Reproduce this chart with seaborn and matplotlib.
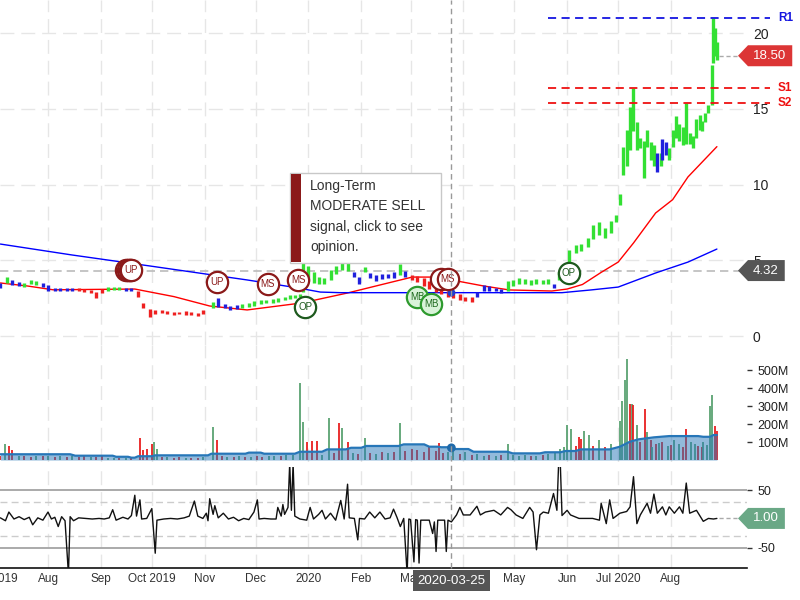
import numpy as np
import pandas as pd
import matplotlib
matplotlib.use("Agg")
import matplotlib.pyplot as plt
import matplotlib.dates as mdates
from matplotlib.patches import Polygon, Rectangle
from matplotlib.lines import Line2D
from matplotlib.transforms import IdentityTransform, blended_transform_factory
from matplotlib.ticker import FuncFormatter, FixedLocator
import seaborn as sns

sns.set_theme(style="white")
plt.rcParams["font.family"] = ["Liberation Sans", "DejaVu Sans"]

# ---------------- price bars (low / high / trend colour) ----------------
bar_dates = [
    "2019-07-04", "2019-07-08", "2019-07-11", "2019-07-15", "2019-07-18", "2019-07-22", "2019-07-25", "2019-07-29",
    "2019-08-01", "2019-08-05", "2019-08-08", "2019-08-12", "2019-08-15", "2019-08-19", "2019-08-22", "2019-08-26",
    "2019-08-29", "2019-09-02", "2019-09-05", "2019-09-09", "2019-09-12", "2019-09-16", "2019-09-19", "2019-09-23",
    "2019-09-26", "2019-09-30", "2019-10-03", "2019-10-07", "2019-10-10", "2019-10-14", "2019-10-17", "2019-10-21",
    "2019-10-24", "2019-10-28", "2019-10-31", "2019-11-06", "2019-11-09", "2019-11-13", "2019-11-16", "2019-11-20",
    "2019-11-23", "2019-11-27", "2019-11-30", "2019-12-04", "2019-12-07", "2019-12-11", "2019-12-14", "2019-12-18",
    "2019-12-21", "2019-12-24", "2019-12-27", "2019-12-29", "2020-01-01", "2020-01-04", "2020-01-07", "2020-01-10",
    "2020-01-14", "2020-01-17", "2020-01-21", "2020-01-24", "2020-01-28", "2020-01-31", "2020-02-03", "2020-02-06",
    "2020-02-10", "2020-02-13", "2020-02-17", "2020-02-20", "2020-02-24", "2020-02-27", "2020-03-02", "2020-03-05",
    "2020-03-09", "2020-03-12", "2020-03-16", "2020-03-19", "2020-03-23", "2020-03-26", "2020-03-30", "2020-04-02",
    "2020-04-06", "2020-04-09", "2020-04-13", "2020-04-16", "2020-04-20", "2020-04-23", "2020-04-27", "2020-04-30",
    "2020-05-04", "2020-05-07", "2020-05-11", "2020-05-14", "2020-05-18", "2020-05-21", "2020-05-24", "2020-05-27",
    "2020-05-30", "2020-06-02", "2020-06-06", "2020-06-09", "2020-06-13", "2020-06-16", "2020-06-20", "2020-06-23",
    "2020-06-27", "2020-06-30", "2020-07-02", "2020-07-04", "2020-07-06", "2020-07-08", "2020-07-10", "2020-07-12",
    "2020-07-14", "2020-07-16", "2020-07-18", "2020-07-20", "2020-07-22", "2020-07-24", "2020-07-26", "2020-07-27",
    "2020-07-29", "2020-07-31", "2020-08-02", "2020-08-04", "2020-08-06", "2020-08-08", "2020-08-10", "2020-08-12",
    "2020-08-14", "2020-08-16", "2020-08-18", "2020-08-19", "2020-08-21", "2020-08-23", "2020-08-25", "2020-08-26",
    "2020-08-27", "2020-08-28",
]
bar_low = [
    3.20, 3.50, 3.35, 3.30, 3.25, 3.40, 3.35, 3.25,
    3.00, 3.00, 2.95, 3.00, 2.95, 2.95, 2.90, 2.85,
    2.50, 2.85, 3.00, 3.05, 3.05, 2.95, 2.95, 2.60,
    1.85, 1.25, 1.45, 1.50, 1.45, 1.40, 1.45, 1.40,
    1.40, 1.35, 1.45, 1.85, 1.90, 1.85, 1.70, 1.75,
    1.85, 1.90, 2.00, 2.10, 2.15, 2.20, 2.25, 2.35,
    2.45, 2.50, 2.55, 2.90, 3.60, 3.50, 3.40, 3.45,
    3.70, 4.10, 4.35, 4.30, 3.90, 3.40, 4.20, 3.80,
    3.65, 3.75, 3.80, 3.85, 4.00, 3.90, 3.70, 3.55,
    3.30, 3.10, 2.90, 2.75, 2.60, 2.50, 2.40, 2.30,
    2.25, 2.60, 2.95, 3.00, 2.95, 2.85, 3.00, 3.30,
    3.40, 3.45, 3.35, 3.40, 3.45, 3.40, 3.15, 3.70,
    3.80, 4.90, 5.50, 5.60, 5.90, 6.40, 6.70, 6.50,
    6.80, 7.50, 8.65, 10.6, 11.2, 12.3, 13.5, 12.3,
    12.4, 10.4, 12.5, 11.6, 11.2, 10.8, 11.2, 11.6,
    11.95, 11.6, 12.5, 13.1, 12.9, 12.6, 12.7, 12.7,
    12.4, 13.1, 13.6, 13.5, 14.1, 14.7, 15.25, 18.0,
    18.5, 18.2,
]
bar_high = [
    3.50, 3.90, 3.70, 3.55, 3.50, 3.70, 3.60, 3.50,
    3.35, 3.20, 3.20, 3.20, 3.15, 3.15, 3.10, 3.05,
    2.90, 3.10, 3.25, 3.25, 3.25, 3.20, 3.20, 3.00,
    2.20, 1.75, 1.70, 1.70, 1.65, 1.60, 1.60, 1.65,
    1.60, 1.55, 1.70, 2.25, 2.50, 2.10, 2.00, 2.05,
    2.10, 2.15, 2.30, 2.40, 2.40, 2.45, 2.50, 2.60,
    2.70, 2.70, 2.75, 4.80, 4.60, 4.20, 3.90, 3.85,
    4.35, 4.60, 4.90, 4.80, 4.20, 3.90, 4.55, 4.15,
    4.00, 4.10, 4.10, 4.20, 4.75, 4.30, 4.00, 3.95,
    3.80, 3.60, 3.40, 3.20, 3.00, 2.95, 2.80, 2.60,
    2.55, 2.90, 3.35, 3.30, 3.15, 3.10, 3.60, 3.70,
    3.80, 3.75, 3.70, 3.75, 3.70, 3.75, 3.40, 4.20,
    4.20, 5.70, 6.00, 6.10, 6.50, 7.30, 7.50, 7.10,
    7.60, 8.00, 9.40, 12.5, 13.6, 15.1, 16.4, 14.1,
    13.1, 12.9, 13.6, 12.8, 12.6, 12.1, 12.1, 13.0,
    12.8, 12.4, 13.6, 14.5, 14.0, 13.8, 15.4, 13.4,
    13.2, 14.3, 14.6, 14.2, 14.7, 15.25, 17.9, 21.0,
    20.3, 19.4,
]
bar_trend = list(
    "bgbbgggb" "bbbbbrrr" "rrgggbbr" "rrrrrrrr" "rrrgbbbb" "gggggggg" "gggggggg"
    "ggggbbgb" "bbbbgbrr" "rrrrrrrr" "rbbbbbgg" "ggggggbg" "gggggggg" "gggggggg"
    "gggggbgb" "bggggggg" "gggggggg" "gg"
)

# ---------------- moving averages ----------------
ma50_dates = ["2019-07-04", "2019-07-20", "2019-08-04", "2019-09-21", "2019-10-14", "2019-11-04", "2019-11-26",
              "2019-12-28", "2020-01-24", "2020-02-19", "2020-03-02", "2020-03-17", "2020-03-25", "2020-04-13",
              "2020-04-28", "2020-05-23", "2020-06-01", "2020-06-10", "2020-06-21", "2020-07-01", "2020-07-10",
              "2020-07-23", "2020-08-02", "2020-08-11", "2020-08-28"]
ma50_values = [3.50, 3.30, 3.05, 3.10, 2.60, 1.98, 1.72, 2.18, 2.84, 3.56, 3.89, 3.89, 3.70, 3.30, 3.04, 2.97,
               3.10, 3.40, 4.20, 4.88, 6.14, 8.12, 9.00, 10.50, 12.50]
ma200_dates = ["2019-07-04", "2019-08-15", "2019-09-30", "2019-11-26", "2019-12-26", "2020-01-08", "2020-01-20",
               "2020-05-29", "2020-06-15", "2020-07-01", "2020-07-23", "2020-08-11", "2020-08-28"]
ma200_values = [6.07, 5.35, 4.62, 3.70, 3.17, 2.90, 2.86, 2.86, 3.04, 3.23, 4.16, 4.88, 5.74]

# ---------------- signals ----------------
sig_dates = ["2019-09-16", "2019-09-17", "2019-09-18", "2019-09-19", "2019-11-08", "2019-12-08", "2019-12-26",
             "2019-12-30", "2020-03-05", "2020-03-13", "2020-03-19", "2020-03-23", "2020-06-02"]
sig_prices = [4.36, 4.36, 4.36, 4.36, 3.56, 3.43, 3.70, 1.91, 2.57, 2.11, 3.76, 3.76, 4.16]
sig_labels = ["UP", "UP", "UP", "UP", "UP", "MS", "MS", "OP", "MB", "MB", "MS", "MS", "OP"]

# support / resistance
level_names = ["R1", "S1", "S2"]
level_values = [21.0, 16.4, 15.4]
last_close = 18.50
cross_date = "2020-03-25"
cross_price = 4.32
tooltip_lines = ["Long-Term", "MODERATE SELL", "signal, click to see", "opinion."]

# ---------------- volume (millions) ----------------
vol_dates = [
    "2019-07-04", "2019-07-07", "2019-07-09", "2019-07-11", "2019-07-15", "2019-07-18", "2019-07-22", "2019-07-25",
    "2019-07-29", "2019-08-01", "2019-08-05", "2019-08-08", "2019-08-12", "2019-08-15", "2019-08-19", "2019-08-22",
    "2019-08-26", "2019-08-29", "2019-09-02", "2019-09-05", "2019-09-09", "2019-09-12", "2019-09-16", "2019-09-19",
    "2019-09-24", "2019-09-26", "2019-09-28", "2019-10-01", "2019-10-02", "2019-10-04", "2019-10-07", "2019-10-10",
    "2019-10-14", "2019-10-17", "2019-10-21", "2019-10-24", "2019-10-28", "2019-10-31", "2019-11-06", "2019-11-08",
    "2019-11-11", "2019-11-14", "2019-11-18", "2019-11-21", "2019-11-25", "2019-11-28", "2019-12-02", "2019-12-05",
    "2019-12-09", "2019-12-12", "2019-12-16", "2019-12-19", "2019-12-23", "2019-12-27", "2019-12-29", "2019-12-31",
    "2020-01-03", "2020-01-06", "2020-01-09", "2020-01-13", "2020-01-16", "2020-01-19", "2020-01-21", "2020-01-24",
    "2020-01-27", "2020-01-30", "2020-02-03", "2020-02-06", "2020-02-10", "2020-02-13", "2020-02-17", "2020-02-20",
    "2020-02-24", "2020-02-27", "2020-03-02", "2020-03-05", "2020-03-09", "2020-03-12", "2020-03-16", "2020-03-18",
    "2020-03-20", "2020-03-23", "2020-03-26", "2020-03-30", "2020-04-02", "2020-04-06", "2020-04-09", "2020-04-13",
    "2020-04-16", "2020-04-20", "2020-04-23", "2020-04-27", "2020-04-30", "2020-05-04", "2020-05-07", "2020-05-11",
    "2020-05-14", "2020-05-18", "2020-05-21", "2020-05-25", "2020-05-28", "2020-05-30", "2020-06-01", "2020-06-03",
    "2020-06-06", "2020-06-08", "2020-06-09", "2020-06-11", "2020-06-14", "2020-06-16", "2020-06-20", "2020-06-23",
    "2020-06-27", "2020-07-02", "2020-07-03", "2020-07-05", "2020-07-06", "2020-07-08", "2020-07-09", "2020-07-10",
    "2020-07-12", "2020-07-14", "2020-07-17", "2020-07-18", "2020-07-20", "2020-07-21", "2020-07-23", "2020-07-25",
    "2020-07-27", "2020-07-30", "2020-08-01", "2020-08-03", "2020-08-06", "2020-08-08", "2020-08-10", "2020-08-13",
    "2020-08-15", "2020-08-17", "2020-08-19", "2020-08-20", "2020-08-22", "2020-08-24", "2020-08-25", "2020-08-27",
    "2020-08-28",
]
vol_values = [
    22, 89, 80, 54, 20, 25, 18, 22,
    20, 25, 18, 20, 15, 22, 18, 20,
    15, 18, 22, 12, 14, 10, 12, 10,
    120, 55, 62, 87, 98, 60, 15, 18,
    12, 15, 12, 14, 12, 15, 182, 111,
    20, 18, 15, 20, 18, 15, 22, 18,
    20, 25, 22, 28, 30, 426, 209, 98,
    106, 106, 30, 232, 40, 204, 176, 98,
    40, 35, 121, 40, 35, 45, 38, 42,
    204, 50, 60, 55, 45, 70, 50, 92,
    40, 45, 50, 35, 45, 30, 35, 25,
    30, 20, 28, 88, 30, 25, 30, 20,
    25, 30, 35, 45, 60, 70, 194, 172,
    80, 130, 115, 159, 140, 80, 111, 70,
    90, 216, 330, 445, 559, 310, 310, 305,
    194, 100, 284, 156, 110, 70, 90, 95,
    100, 80, 85, 110, 90, 75, 175, 100,
    90, 80, 70, 100, 85, 302, 359, 191,
    159,
]
vol_trend = list(
    "rgrrgrrg" "rgrgrgrr" "grrggrgr" "rrrrggrg" "rrgrrggr" "rgrgrgrr" "ggrggggr"
    "rrggrrgr" "grgrgrgr" "grrrrrrr" "rggrgrgg" "rgrggggr" "grgggggg" "rrrggrgr"
    "gggggrgr" "grrgrgrg" "rgrggrrg" "grrggggr" "r"
)
vavg_dates = ["2019-07-04", "2019-08-14", "2019-08-17", "2019-09-08", "2019-09-10", "2019-09-17", "2019-09-19",
              "2019-09-21", "2019-09-23", "2019-10-01", "2019-10-03", "2019-11-03", "2019-11-05", "2019-11-25",
              "2019-11-27", "2019-12-04", "2019-12-06", "2019-12-24", "2019-12-27", "2020-01-09", "2020-01-12",
              "2020-01-23", "2020-01-26", "2020-02-01", "2020-02-04", "2020-02-23", "2020-02-26", "2020-03-09",
              "2020-03-12", "2020-03-17", "2020-03-19", "2020-03-24", "2020-03-27", "2020-04-04", "2020-04-07",
              "2020-04-27", "2020-04-30", "2020-05-16", "2020-05-19", "2020-05-28", "2020-05-31", "2020-06-06",
              "2020-06-09", "2020-06-26", "2020-07-02", "2020-07-08", "2020-07-13", "2020-07-22", "2020-07-31",
              "2020-08-17", "2020-08-20", "2020-08-24", "2020-08-26", "2020-08-28"]
vavg_values = [32, 32, 24, 24, 18, 18, 13, 13, 21, 21, 26, 26, 35, 35, 41, 41, 35, 35, 46, 46, 59, 59, 68, 68,
               78, 78, 87, 87, 74, 74, 71, 71, 61, 61, 46, 46, 37, 37, 43, 43, 50, 50, 59, 59, 74, 102, 115,
               126, 133, 133, 129, 129, 139, 139]

# ---------------- oscillator ----------------
osc_dates = [
    "2019-07-04", "2019-07-07", "2019-07-09", "2019-07-12", "2019-07-15", "2019-07-18", "2019-07-21", "2019-07-23",
    "2019-07-26", "2019-07-29", "2019-08-01", "2019-08-03", "2019-08-05", "2019-08-07", "2019-08-09", "2019-08-11",
    "2019-08-13", "2019-08-14", "2019-08-16", "2019-08-19", "2019-08-23", "2019-08-27", "2019-08-31", "2019-09-03",
    "2019-09-06", "2019-09-08", "2019-09-10", "2019-09-14", "2019-09-17", "2019-09-19", "2019-09-21", "2019-09-22",
    "2019-09-24", "2019-09-25", "2019-09-28", "2019-10-01", "2019-10-03", "2019-10-04", "2019-10-08", "2019-10-12",
    "2019-10-16", "2019-10-20", "2019-10-23", "2019-10-26", "2019-10-28", "2019-10-31", "2019-11-02", "2019-11-03",
    "2019-11-04", "2019-11-06", "2019-11-07", "2019-11-09", "2019-11-12", "2019-11-15", "2019-11-18", "2019-11-21",
    "2019-11-24", "2019-11-27", "2019-11-30", "2019-12-02", "2019-12-03", "2019-12-06", "2019-12-10", "2019-12-13",
    "2019-12-14", "2019-12-16", "2019-12-17", "2019-12-18", "2019-12-20", "2019-12-21", "2019-12-22", "2019-12-23",
    "2019-12-24", "2019-12-27", "2019-12-31", "2020-01-02", "2020-01-04", "2020-01-07", "2020-01-09", "2020-01-11",
    "2020-01-14", "2020-01-17", "2020-01-20", "2020-01-22", "2020-01-24", "2020-01-25", "2020-01-28", "2020-01-30",
    "2020-01-31", "2020-02-03", "2020-02-06", "2020-02-09", "2020-02-12", "2020-02-15", "2020-02-18", "2020-02-20",
    "2020-02-22", "2020-02-24", "2020-02-26", "2020-02-28", "2020-02-29", "2020-03-01", "2020-03-03", "2020-03-04",
    "2020-03-05", "2020-03-06", "2020-03-07", "2020-03-12", "2020-03-14", "2020-03-15", "2020-03-16", "2020-03-17",
    "2020-03-21", "2020-03-22", "2020-03-23", "2020-03-25", "2020-03-28", "2020-03-30", "2020-04-01", "2020-04-05",
    "2020-04-09", "2020-04-11", "2020-04-14", "2020-04-19", "2020-04-23", "2020-04-27", "2020-04-29", "2020-05-02",
    "2020-05-06", "2020-05-10", "2020-05-12", "2020-05-14", "2020-05-16", "2020-05-18", "2020-05-21", "2020-05-24",
    "2020-05-26", "2020-05-27", "2020-05-28", "2020-05-29", "2020-06-01", "2020-06-03", "2020-06-08", "2020-06-12",
    "2020-06-16", "2020-06-20", "2020-06-21", "2020-06-24", "2020-06-26", "2020-06-28", "2020-07-02", "2020-07-06",
    "2020-07-08", "2020-07-10", "2020-07-12", "2020-07-14", "2020-07-18", "2020-07-20", "2020-07-22", "2020-07-24",
    "2020-07-27", "2020-07-29", "2020-07-31", "2020-08-03", "2020-08-06", "2020-08-08", "2020-08-10", "2020-08-12",
    "2020-08-16", "2020-08-20", "2020-08-23", "2020-08-26", "2020-08-28",
]
osc_values = [
    2, -3, 12, 0, 4, -1, 3, -10,
    2, -2, 12, 0, 3, -13, 4, -3,
    -95, 4, -3, 2, 1, 0, 1, 0,
    2, 16, -2, 3, 0, 6, 41, 5,
    33, 0, 1, 18, -59, -2, 0, 1,
    0, 2, 5, 31, 5, 1, 10, -3,
    35, 8, 23, 2, 10, 0, 3, -3,
    1, -1, 12, 33, 0, 1, 0, 0,
    20, 5, 25, 8, 20, 95, 15, 95,
    5, 0, -2, 20, 0, 8, 15, 0,
    10, -2, 32, 0, 60, 2, 1, -36,
    1, 0, 12, 2, 12, 0, 2, 17,
    3, -13, 1, -95, 0, -1, -74, -1,
    -2, -76, -2, -2, -25, -5, -56, -2,
    -2, -56, -2, -5, 7, 20, 7, 7,
    22, 7, 12, 15, 7, 20, 16, 7,
    1, 20, 12, -53, 7, 12, 10, 44,
    15, 95, 95, 6, 15, 7, 1, 1,
    1, -2, 27, -8, 33, 1, 10, 13,
    21, 73, -8, 7, 27, 10, 43, 10,
    21, 7, 21, 10, 21, 10, 62, 10,
    15, -4, 1, 0, 1,
]

# ---------------- figure / axes layout ----------------
W, H = 800, 600
fig = plt.figure(figsize=(8, 6), dpi=100, facecolor="white")


def px_box(top, bottom, right=747):
    return [0, (H - bottom) / H, right / W, (bottom - top) / H]


ax_p = fig.add_axes(px_box(0, 345))
ax_v = fig.add_axes(px_box(345, 462), sharex=ax_p)
ax_o = fig.add_axes(px_box(467, 568), sharex=ax_p)

GREEN, BLUE, RED = "#33e033", "#2020dd", "#ee2020"
trend_col = {"g": GREEN, "b": BLUE, "r": RED}

# price bars
pd_dates = pd.to_datetime(bar_dates)
ax_p.vlines(pd_dates, bar_low, bar_high, colors=[trend_col[t] for t in bar_trend], lw=2.4, zorder=4)

# moving averages
sns.lineplot(x=pd.to_datetime(ma50_dates), y=ma50_values, color="#ff0000", lw=1.0, ax=ax_p,
             zorder=3, estimator=None, sort=False, legend=False)
sns.lineplot(x=pd.to_datetime(ma200_dates), y=ma200_values, color="#0000ff", lw=1.0, ax=ax_p,
             zorder=3, estimator=None, sort=False, legend=False)

# crosshair horizontal
ax_p.axhline(cross_price, color="#bbbbbb", ls=(0, (5, 3)), lw=1.2, zorder=2)

# signal markers (a label is only written where it is not hidden by the next circle)
sig_style = {
    "UP": ("white", "#8b1a1a", "#8b1a1a"),
    "MS": ("white", "#8b1a1a", "#8b1a1a"),
    "OP": ("white", "#1e5a1e", "#1e5a1e"),
    "MB": ("#d9f3d9", "#2e9a2e", "#1e6a1e"),
}
sig_num = mdates.date2num(pd.to_datetime(sig_dates))
for i, (dn, p, lab) in enumerate(zip(sig_num, sig_prices, sig_labels)):
    fc, ec, tc = sig_style[lab]
    sns.scatterplot(x=[mdates.num2date(dn)], y=[p], s=235, color=fc, edgecolor=ec, linewidth=1.6, ax=ax_p,
                    zorder=10 + 2 * i, legend=False)
    hidden = (i + 1 < len(sig_num) and sig_labels[i + 1] == lab and sig_num[i + 1] - dn <= 4
              and abs(sig_prices[i + 1] - p) < 0.1)
    if not hidden:
        ax_p.text(dn, p, lab, ha="center", va="center", fontsize=7, color=tc, zorder=11 + 2 * i)

# support / resistance
level_cols = ["#1515e0", "#ee1111", "#ee1111"]
for name, val, col in zip(level_names, level_values, level_cols):
    ax_p.axhline(val, xmin=548 / 747, xmax=770 / 747, color=col, ls=(0, (4.5, 3)), lw=1.3,
                 clip_on=False, zorder=6)
    ax_p.text(778 / 747, val, name, transform=ax_p.get_yaxis_transform(), color=col, fontsize=8.5,
              fontweight="bold", va="center", ha="left", clip_on=False)

# crosshair dot on long MA
cd = pd.Timestamp(cross_date)
cdn = mdates.date2num(cd)
bv = np.interp(cdn, mdates.date2num(pd.to_datetime(ma200_dates)), ma200_values)
sns.scatterplot(x=[cd], y=[bv], s=32, color="#1f3fd0", edgecolor="none", ax=ax_p, zorder=9, legend=False)

# ---------------- volume ----------------
vd = pd.to_datetime(vol_dates)
vcol = {"g": "#5aa272", "r": "#e82020"}
ax_v.vlines(vd, 0, vol_values, colors=[vcol[t] for t in vol_trend], lw=1.3, zorder=3)
vad = pd.to_datetime(vavg_dates)
ax_v.fill_between(vad, vavg_values, 0, color="#2676b8", alpha=0.5, lw=0, zorder=4)
sns.lineplot(x=vad, y=vavg_values, color="#2676b8", lw=1.6, ax=ax_v, zorder=5, estimator=None,
             sort=False, legend=False)
vv = np.interp(cdn, mdates.date2num(vad), vavg_values)
sns.scatterplot(x=[cd], y=[vv], s=40, color="#1f6aaa", edgecolor="none", ax=ax_v, zorder=6, legend=False)

# ---------------- oscillator ----------------
for lvl in (50, -50):
    ax_o.axhline(lvl, color="#aaaaaa", lw=1.4, zorder=2)
for lvl in (30, -30):
    ax_o.axhline(lvl, color="#cccccc", ls=(0, (5, 3)), lw=1.0, zorder=2)
sns.lineplot(x=pd.to_datetime(osc_dates), y=osc_values, color="#111111", lw=1.0, ax=ax_o, zorder=5,
             estimator=None, sort=False, legend=False)

# ---------------- axes styling ----------------
x0 = pd.Timestamp("2019-07-03 19:00")
x1 = x0 + pd.Timedelta(days=747 / 1.702)
ax_p.set_xlim(x0, x1)
ax_p.set_ylim(-0.594, 22.18)
ax_v.set_ylim(-11, 639)
ax_o.set_ylim(-84.5, 89.7)

grid_kw = dict(color="#e6e6e6", ls=(0, (10, 5)), lw=1)
for ax in (ax_p, ax_v, ax_o):
    ax.set_facecolor("none")
    ax.set_axisbelow(True)
    for s in ax.spines.values():
        s.set_visible(False)
    ax.set_xlabel("")
    ax.set_ylabel("")
    ax.yaxis.tick_right()
    ax.grid(True, axis="x", **grid_kw)
ax_p.grid(True, axis="y", **grid_kw)

month_starts = pd.date_range("2019-08-01", "2020-08-01", freq="MS")
ax_o.xaxis.set_major_locator(FixedLocator(mdates.date2num(month_starts)))


def month_fmt(x, pos=None):
    d = mdates.num2date(x)
    if d.month == 1:
        return f"{d.year}"
    if d.month in (7, 10):
        return d.strftime("%b %Y")
    return d.strftime("%b")


ax_o.xaxis.set_major_formatter(FuncFormatter(month_fmt))

ax_p.set_yticks([0, 5, 10, 15, 20])
ax_p.set_yticklabels(["0", "5", "10", "15", "20"])
ax_p.tick_params(axis="y", length=0, pad=4.3, labelsize=10, labelcolor="#222222")
ax_p.tick_params(axis="x", length=0, labelbottom=False)

vt = [100, 200, 300, 400, 500]
ax_v.set_yticks(vt)
ax_v.set_yticklabels([f"{v}M" for v in vt])
ax_v.tick_params(axis="y", length=3.5, width=1, color="#333333", pad=4, labelsize=9, labelcolor="#222222")
ax_v.tick_params(axis="x", length=0, labelbottom=False)

ax_o.set_yticks([-50, 50])
ax_o.set_yticklabels(["-50", "50"])
ax_o.tick_params(axis="y", length=3.5, width=1, color="#333333", pad=4, labelsize=9, labelcolor="#222222")
ax_o.tick_params(axis="x", length=0, pad=3.5, labelsize=8.5, labelcolor="#333333")
ax_o.spines["bottom"].set_visible(True)
ax_o.spines["bottom"].set_color("#111111")
ax_o.spines["bottom"].set_linewidth(1.2)

# the partially visible first month label
ax_o.annotate("Jul 2019", xy=(mdates.date2num(pd.Timestamp("2019-07-01")), 0),
              xycoords=("data", "axes fraction"), xytext=(0, -3.5), textcoords="offset points",
              ha="center", va="top", fontsize=8.5, color="#333333", annotation_clip=False)

# crosshair date label
ax_o.annotate(cross_date, xy=(cdn, 0), xycoords=("data", "axes fraction"), xytext=(0, -4.8),
              textcoords="offset points", ha="center", va="top", fontsize=9.5, color="white",
              bbox=dict(boxstyle="square,pad=0.33", fc="#555555", ec="none"), zorder=20,
              annotation_clip=False)

# crosshair vertical line across panels
bt = blended_transform_factory(ax_p.transData, fig.transFigure)
fig.add_artist(Line2D([cdn, cdn], [(H - 568) / H, 1.0], transform=bt, color="#999999",
                      ls=(0, (4, 3)), lw=1.0, zorder=5))

# ---------------- value tags on the right ----------------
ident = IdentityTransform()
renderer = fig.canvas.get_renderer()


def value_tag(ax, value, text, color, last_date=None):
    y = ax.transData.transform((cdn, value))[1]
    tip = 738
    t = fig.text(753, y, text, transform=ident, color="white", fontsize=9.5, va="center",
                 ha="left", zorder=31)
    bb = t.get_window_extent(renderer=renderer)
    right = bb.x1 + 6
    h = 10.5
    fig.add_artist(Polygon([[tip, y], [tip + 10, y + h], [right, y + h], [right, y - h], [tip + 10, y - h]],
                           closed=True, transform=ident, fc=color, ec="none", zorder=30))
    if last_date is not None:
        xl = ax.transData.transform((mdates.date2num(pd.Timestamp(last_date)), value))[0]
        fig.add_artist(Line2D([xl + 2, tip], [y, y], transform=ident, color="#aaaaaa",
                              ls=(0, (3, 2)), lw=1.0, zorder=29))


value_tag(ax_p, last_close, f"{last_close:.2f}", "#dc3535", bar_dates[-1])
value_tag(ax_p, cross_price, f"{cross_price:.2f}", "#555555")
value_tag(ax_o, osc_values[-1], f"{osc_values[-1]:.2f}", "#6aa886", osc_dates[-1])

# ---------------- tooltip ----------------
fig.add_artist(Rectangle((290, H - 263), 151, 90, transform=ident, fc="white", ec="#c8c8c8", lw=1,
                         zorder=40))
fig.add_artist(Rectangle((291, H - 262), 10, 88, transform=ident, fc="#8b1a1a", ec="none", zorder=41))
for i, line in enumerate(tooltip_lines):
    fig.text(310, H - (186 + 20.3 * i), line, transform=ident, va="center", ha="left", fontsize=10,
             color="#333333", zorder=42)

fig.savefig("out.png", dpi=100, facecolor="white")
